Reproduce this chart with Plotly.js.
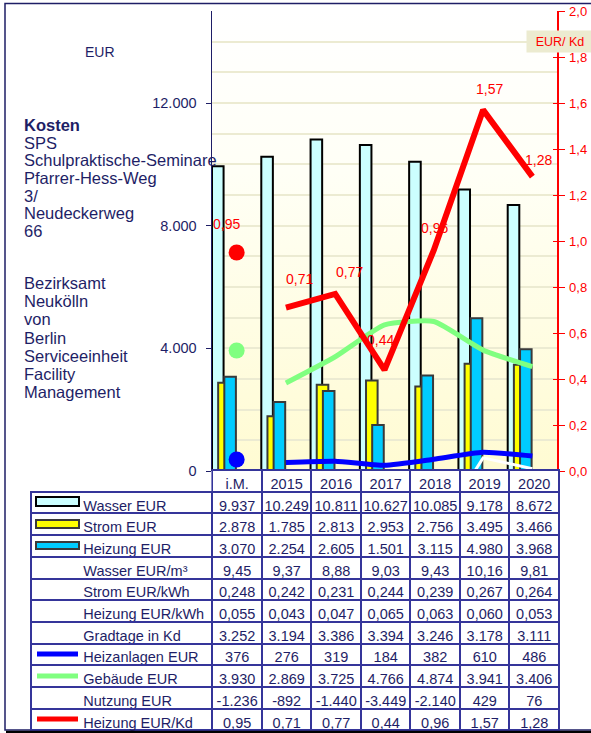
<!DOCTYPE html>
<html><head><meta charset="utf-8">
<script src="https://cdn.plot.ly/plotly-3.0.1.min.js"></script>
<style>body{margin:0;padding:0;background:#fff}#chart{width:591px;height:733px}</style>
</head><body><div id="chart"></div>
<script>
const categories = ['i.M.','2015','2016','2017','2018','2019','2020'];
const wasserEUR = [9937,10249,10811,10627,10085,9178,8672];
const stromEUR = [2878,1785,2813,2953,2756,3495,3466];
const heizungEUR = [3070,2254,2605,1501,3115,4980,3968];
const wasserEURm3 = [9.45,9.37,8.88,9.03,9.43,10.16,9.81];
const stromEURkWh = [0.248,0.242,0.231,0.244,0.239,0.267,0.264];
const heizungEURkWh = [0.055,0.043,0.047,0.065,0.063,0.060,0.053];
const gradtageKd = [3252,3194,3386,3394,3246,3178,3111];
const heizanlagenEUR = [376,276,319,184,382,610,486];
const gebaeudeEUR = [3930,2869,3725,4766,4874,3941,3406];
const nutzungEUR = [-1236,-892,-1440,-3449,-2140,429,76];
const heizungEURKd = [0.95,0.71,0.77,0.44,0.96,1.57,1.28];
const rowLabels = ['Wasser EUR','Strom EUR','Heizung EUR','Wasser EUR/m³','Strom EUR/kWh','Heizung EUR/kWh','Gradtage in Kd','Heizanlagen EUR','Gebäude EUR','Nutzung EUR','Heizung EUR/Kd'];
const leftTextTop = ['<b>Kosten</b>','SPS','Schulpraktische-Seminare','Pfarrer-Hess-Weg','3/','Neudeckerweg','66'];
const leftTextBottom = ['Bezirksamt','Neukölln','von','Berlin','Serviceeinheit','Facility','Management'];

// label placement (style only, pixels)
const labelDx = [-10, 14, 14, -4, 1, 6, 6];
const labelDy = [28, 29, 22, 30, 22, 21, 17];

const W = 591, H = 733;
const px = v => v / W;
const py = v => 1 - v / H;
const NAVY = '#1e1e66';
const TBL = '#35359a';
const GRID = '#ecebd2';
const FONT = 'Arial, "Liberation Sans", sans-serif';
const NB = '\u00a0';

function de(v, dec) {
  let s = Math.abs(v).toFixed(dec);
  let parts = s.split('.');
  let i = parts[0].replace(/\B(?=(\d{3})+(?!\d))/g, '.');
  return (v < 0 ? '-' : '') + i + (parts[1] ? ',' + parts[1] : '');
}

const rowData = [wasserEUR, stromEUR, heizungEUR, wasserEURm3, stromEURkWh, heizungEURkWh, gradtageKd, heizanlagenEUR, gebaeudeEUR, nutzungEUR, heizungEURKd];
const rowDec = [0,0,0,2,3,3,0,0,0,0,2];
const indent = NB.repeat(11);
const tableCols = [rowLabels.map(l => indent + l.split(' ').join(NB))];
categories.forEach((c, j) => tableCols.push(rowData.map((r, k) => de(r[j], rowDec[k]))));

const barW = 0.235;
const traces = [
  {type:'bar', x:categories, y:wasserEUR, width:barW, offset:-0.5, marker:{color:'#ccffff', line:{color:'#000000', width:2}}, hoverinfo:'skip'},
  {type:'bar', x:categories, y:stromEUR, width:barW, offset:-0.375, marker:{color:'#ffff00', line:{color:'#3a3a3a', width:2}}, hoverinfo:'skip'},
  {type:'bar', x:categories, y:heizungEUR, width:barW, offset:-0.25, marker:{color:'#00ccff', line:{color:'#3a3a3a', width:2}}, hoverinfo:'skip'},
  {type:'scatter', mode:'lines', x:categories.slice(1), y:nutzungEUR.slice(1), line:{color:'#ffffff', width:3}, hoverinfo:'skip'},
  {type:'scatter', mode:'lines', x:categories.slice(1), y:heizanlagenEUR.slice(1), line:{color:'#0000ff', width:5, shape:'spline', smoothing:0.5}, hoverinfo:'skip'},
  {type:'scatter', mode:'markers', x:categories.slice(0,1), y:heizanlagenEUR.slice(0,1), marker:{color:'#0000ff', size:16}, hoverinfo:'skip'},
  {type:'scatter', mode:'lines', x:categories.slice(1), y:gebaeudeEUR.slice(1), line:{color:'#80ff80', width:5, shape:'spline', smoothing:0.5}, hoverinfo:'skip'},
  {type:'scatter', mode:'markers', x:categories.slice(0,1), y:gebaeudeEUR.slice(0,1), marker:{color:'#80ff80', size:16}, hoverinfo:'skip'},
  {type:'scatter', mode:'lines', x:categories.slice(1), y:heizungEURKd.slice(1), yaxis:'y2', line:{color:'#ff0000', width:6}, hoverinfo:'skip'},
  {type:'scatter', mode:'markers', x:categories.slice(0,1), y:heizungEURKd.slice(0,1), yaxis:'y2', marker:{color:'#ff0000', size:16}, hoverinfo:'skip'},
  {type:'table', domain:{x:[px(31), px(559)], y:[py(732), py(470)]},
   columnwidth:[181].concat(categories.map(() => 49.4)),
   header:{values:[''].concat(categories), height:21.7, align:'center',
     fill:{color:['rgba(0,0,0,0)'].concat(categories.map(() => '#ffffff'))},
     line:{color:['rgba(0,0,0,0)'].concat(categories.map(() => TBL)), width:2},
     font:{family:FONT, size:14.5, color:NAVY}},
   cells:{values:tableCols, height:21.7, align:['left'].concat(categories.map(() => 'center')),
     fill:{color:'#ffffff'}, line:{color:TBL, width:2},
     font:{family:FONT, size:14.5, color:NAVY}}}
];

const annotations = [];
heizungEURKd.forEach((v, i) => {
  annotations.push({x:i, y:v, xref:'x', yref:'y2', text:de(v,2), showarrow:false,
    xshift: labelDx[i], yshift: labelDy[i], font:{family:FONT, size:14, color:'#ff0000'}});
});
leftTextTop.forEach((t, i) => annotations.push({xref:'paper', yref:'paper', x:px(22), y:py(125 + i*17.7), xanchor:'left', yanchor:'middle', text:t, showarrow:false, font:{family:FONT, size:16.5, color:NAVY}}));
leftTextBottom.forEach((t, i) => annotations.push({xref:'paper', yref:'paper', x:px(22), y:py(283 + i*18.2), xanchor:'left', yanchor:'middle', text:t, showarrow:false, font:{family:FONT, size:16.5, color:NAVY}}));
annotations.push({xref:'paper', yref:'paper', x:px(100), y:py(52), xanchor:'center', yanchor:'middle', text:'EUR', showarrow:false, font:{family:FONT, size:14, color:NAVY}});
annotations.push({xref:'paper', yref:'paper', x:px(526), y:py(42), xanchor:'left', yanchor:'middle', text:'EUR/ Kd', showarrow:false, bgcolor:'#ecebd0', width:64, height:19, font:{family:FONT, size:12.5, color:'#ff0000'}});

const keyRects = [[497, 506, '#ccffff', '#000000'], [520, 528, '#ffff00', '#3a3a3a'], [542, 549, '#00ccff', '#3a3a3a']];
const shapes = [
  {type:'rect', xref:'paper', yref:'paper', x0:px(5), x1:px(600), y0:py(730), y1:py(3.5), line:{color:NAVY, width:1.5}, fillcolor:'rgba(0,0,0,0)', layer:'below'},
  {type:'line', xref:'paper', yref:'paper', x0:px(6), x1:px(600), y0:py(732), y1:py(732), line:{color:'#000000', width:2.5}}
];
keyRects.forEach(k => shapes.push({type:'rect', xref:'paper', yref:'paper', x0:px(36), x1:px(79), y0:py(k[1]), y1:py(k[0]), fillcolor:k[2], line:{color:k[3], width:2}}));
[[654, '#0000ff'], [676, '#80ff80'], [719, '#ff0000']].forEach(k => shapes.push({type:'line', xref:'paper', yref:'paper', x0:px(37), x1:px(78), y0:py(k[0]), y1:py(k[0]), line:{color:k[1], width:5}}));

const grad = "<svg xmlns='http://www.w3.org/2000/svg' width='10' height='100' viewBox='0 0 10 100' preserveAspectRatio='none'><defs><linearGradient id='g' x1='0' y1='0' x2='0' y2='1'><stop offset='0' stop-color='#ffffff'/><stop offset='0.35' stop-color='#fffff6'/><stop offset='1' stop-color='#fffbd2'/></linearGradient></defs><rect width='10' height='100' fill='url(#g)'/></svg>";

const layout = {
  width:W, height:H, margin:{l:0, r:0, t:0, b:0}, showlegend:false,
  paper_bgcolor:'#ffffff', plot_bgcolor:'rgba(0,0,0,0)', separators:',.',
  barmode:'overlay', font:{family:FONT, color:NAVY},
  images:[{source:'data:image/svg+xml;charset=utf-8,' + encodeURIComponent(grad), xref:'paper', yref:'paper', x:px(212), y:py(11), sizex:px(345), sizey:460/H, xanchor:'left', yanchor:'top', sizing:'stretch', layer:'below'}],
  xaxis:{domain:[px(212), px(557)], type:'category', range:[-0.5, 6.5], showticklabels:false, ticks:'', showgrid:false, showline:false, zeroline:false, fixedrange:true},
  yaxis:{domain:[py(471), py(11)], range:[0, 15000], dtick:4000, tick0:0, tickformat:',d', showgrid:true, gridcolor:GRID, gridwidth:2,
    minor:{dtick:1000, showgrid:true, gridcolor:GRID, gridwidth:2}, zeroline:false, showline:true, linecolor:NAVY, linewidth:1.5,
    ticks:'outside', ticklen:5, tickcolor:NAVY, ticklabelstandoff:6, tickfont:{family:FONT, size:14.5, color:NAVY}},
  yaxis2:{overlaying:'y', side:'right', anchor:'x', range:[0, 2], dtick:0.2, tickformat:'.1f', showgrid:false, zeroline:false,
    showline:true, linecolor:'#ff0000', linewidth:1.5, ticks:'outside', ticklen:6, tickcolor:'#ff0000', ticklabelstandoff:2,
    tickfont:{family:FONT, size:13, color:'#ff0000'}},
  yaxis3:{overlaying:'y', side:'right', anchor:'x', range:[0, 2], dtick:0.2, showgrid:false, zeroline:false, showline:false,
    ticks:'inside', ticklen:4, tickcolor:'#ff0000', showticklabels:false},
  annotations:annotations, shapes:shapes
};
traces.push({type:'scatter', mode:'lines', x:[], y:[], yaxis:'y3', hoverinfo:'skip'});
Plotly.newPlot('chart', traces, layout, {displayModeBar:false, staticPlot:true});
</script></body></html>
